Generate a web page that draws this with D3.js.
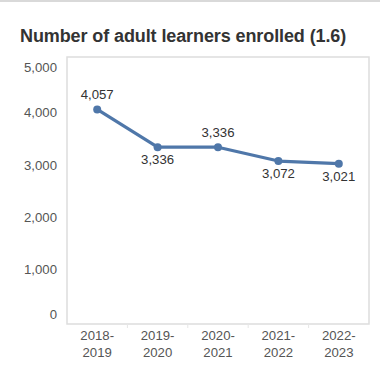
<!DOCTYPE html>
<html>
<head>
<meta charset="utf-8">
<script src="https://cdn.jsdelivr.net/npm/d3@7"></script>
<style>
  html, body { margin: 0; padding: 0; background: #fff; }
  svg { display: block; }
</style>
</head>
<body>
<svg id="chart" width="380" height="381"></svg>
<script>
// Adult learners enrolled per school year
const years = ["2018-2019", "2019-2020", "2020-2021", "2021-2022", "2022-2023"];
const learners = [4057, 3336, 3336, 3072, 3021];
const labelSide = ["above", "below", "above", "below", "below"];
const yTicks = [0, 1000, 2000, 3000, 4000, 5000];
const title = "Number of adult learners enrolled (1.6)";

const svg = d3.select("#chart");
const W = 380, H = 381;
const plot = { left: 67, right: 369, top: 57, bottom: 324 };
const font = "'Liberation Sans', Arial, sans-serif";
const fs = 13.2;

// Thin rule across the top of the card
svg.append("rect").attr("x", 0).attr("y", 0).attr("width", W).attr("height", 2).attr("fill", "#d9d9d9");

svg.append("text")
  .attr("x", 20).attr("y", 42)
  .attr("font-family", font).attr("font-weight", "bold").attr("font-size", 18)
  .attr("fill", "#333").attr("letter-spacing", -0.1)
  .text(title);

const x = d3.scaleBand().domain(years).range([plot.left, plot.right]).padding(0);
const y = d3.scaleLinear().domain([0, 5000]).range([322, 60]);

// Plot frame
svg.append("rect")
  .attr("x", plot.left).attr("y", plot.top)
  .attr("width", plot.right - plot.left).attr("height", plot.bottom - plot.top)
  .attr("fill", "none").attr("stroke", "#ddd").attr("stroke-width", 1.5);

// Y axis labels, ends pulled inside the range
const yAxis = d3.axisLeft(y).tickValues(yTicks).tickSize(0).tickPadding(10)
  .tickFormat(d3.format(","));
const gy = svg.append("g").attr("transform", `translate(${plot.left},0)`).call(yAxis);
gy.select(".domain").remove();
gy.selectAll("text")
  .attr("font-family", font).attr("font-size", fs).attr("fill", "#555")
  .attr("dy", d => d === 0 ? "-0.25em" : d === 5000 ? "0.85em" : "0.32em");

// X axis: ticks at band edges, two-line labels
const gx = svg.append("g").attr("transform", `translate(0,${plot.bottom})`);
gx.selectAll("line.tick")
  .data(years.slice(1))
  .join("line")
  .attr("x1", d => x(d)).attr("x2", d => x(d))
  .attr("y1", 0).attr("y2", 4)
  .attr("stroke", "#e6e6e6");
const xl = gx.selectAll("text.cat")
  .data(years)
  .join("text")
  .attr("class", "cat")
  .attr("x", d => x(d) + x.bandwidth() / 2)
  .attr("text-anchor", "middle")
  .attr("font-family", font).attr("font-size", fs).attr("fill", "#555");
xl.append("tspan").attr("x", d => x(d) + x.bandwidth() / 2).attr("y", 15.5).text(d => d.split("-")[0] + "-");
xl.append("tspan").attr("x", d => x(d) + x.bandwidth() / 2).attr("y", 32.5).text(d => d.split("-")[1]);

const cx = (d, i) => x(years[i]) + x.bandwidth() / 2;
const color = "#4f77a9";

const line = d3.line().x((d, i) => cx(d, i)).y(d => y(d));
svg.append("path")
  .datum(learners)
  .attr("d", line)
  .attr("fill", "none").attr("stroke", color).attr("stroke-width", 3.2)
  .attr("stroke-linejoin", "round");

svg.selectAll("circle.pt")
  .data(learners)
  .join("circle")
  .attr("class", "pt")
  .attr("cx", cx).attr("cy", d => y(d)).attr("r", 4)
  .attr("fill", color);

svg.selectAll("text.val")
  .data(learners)
  .join("text")
  .attr("class", "val")
  .attr("x", cx)
  .attr("y", (d, i) => y(d) + (labelSide[i] === "above" ? -10 : 17))
  .attr("text-anchor", "middle")
  .attr("font-family", font).attr("font-size", fs).attr("fill", "#333")
  .text(d3.format(","));
</script>
</body>
</html>
